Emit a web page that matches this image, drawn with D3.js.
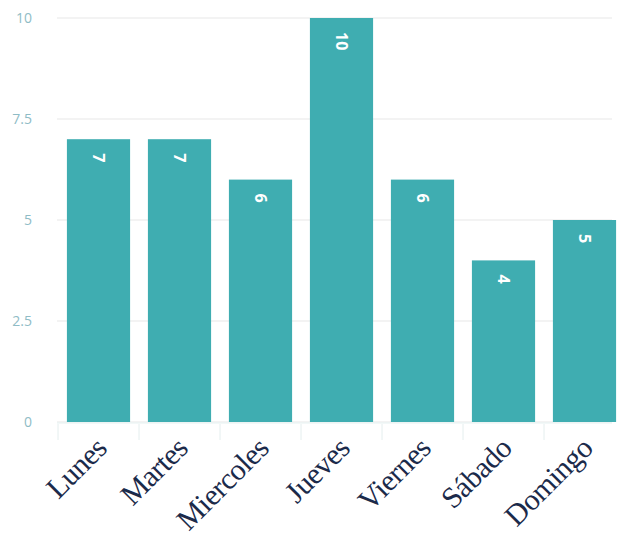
<!DOCTYPE html>
<html><head><meta charset="utf-8">
<script src="https://cdn.jsdelivr.net/npm/d3@7"></script>
<style>body{margin:0;background:#fff;} svg{display:block;}</style>
</head><body>
<script>
const categories = ["Lunes","Martes","Miercoles","Jueves","Viernes","Sábado","Domingo"];
const values = [7,7,6,10,6,4,5];
const yTicks = [0,2.5,5,7.5,10];
const yTickLabels = ["0","2.5","5","7.5","10"];

const W = 625, H = 549;
const svg = d3.select("body").append("svg").attr("width",W).attr("height",H);
const x = d3.scaleBand().domain(categories).range([58,625]).paddingInner(0.22).paddingOuter(0.11);
const y = d3.scaleLinear().domain([0,10]).range([422,18]);

// grid
svg.append("g").selectAll("line").data(yTicks).join("line")
  .attr("x1",57).attr("x2",612).attr("y1",d=>y(d)).attr("y2",d=>y(d))
  .attr("stroke","#efefef").attr("stroke-width",1.5);

// y tick labels
svg.append("g").selectAll("text").data(yTicks).join("text")
  .attr("x",32).attr("y",d=>y(d)).attr("dy","0.35em").attr("text-anchor","end")
  .attr("font-family","Open Sans, sans-serif").attr("font-size",14)
  .attr("fill","#8fbcc6").text((d,i)=>yTickLabels[i]);

// x tick marks
const bounds = categories.map(c=>x(c)-x.step()*x.paddingInner()/2);
svg.append("g").selectAll("line").data(bounds).join("line")
  .attr("x1",d=>d).attr("x2",d=>d).attr("y1",424).attr("y2",440)
  .attr("stroke","#e4eeee").attr("stroke-width",1);
svg.append("line").attr("x1",57).attr("x2",612).attr("y1",423).attr("y2",423)
  .attr("stroke","#e6f2f2").attr("stroke-width",1);

// bars
svg.append("g").selectAll("rect").data(values).join("rect")
  .attr("x",(d,i)=>x(categories[i])).attr("width",x.bandwidth())
  .attr("y",d=>y(d)).attr("height",d=>y(0)-y(d)).attr("fill","#3fadb1");

// value labels rotated
svg.append("g").selectAll("text").data(values).join("text")
  .attr("transform",(d,i)=>`translate(${x(categories[i])+x.bandwidth()/2},${y(d)+14}) rotate(90)`)
  .attr("text-anchor","start").attr("dy","0.35em")
  .attr("font-family","Open Sans, sans-serif").attr("font-weight","bold").attr("font-size",16)
  .attr("fill","#ffffff").text(d=>d);

// x labels
svg.append("g").selectAll("text").data(categories).join("text")
  .attr("transform",d=>`translate(${x(d)+x.bandwidth()/2+10},450) rotate(-45)`)
  .attr("text-anchor","end")
  .attr("font-family","Liberation Serif, serif").attr("font-size",30)
  .attr("letter-spacing","-0.5")
  .attr("fill","#1b2a4a").text(d=>d);
</script>
</body></html>
